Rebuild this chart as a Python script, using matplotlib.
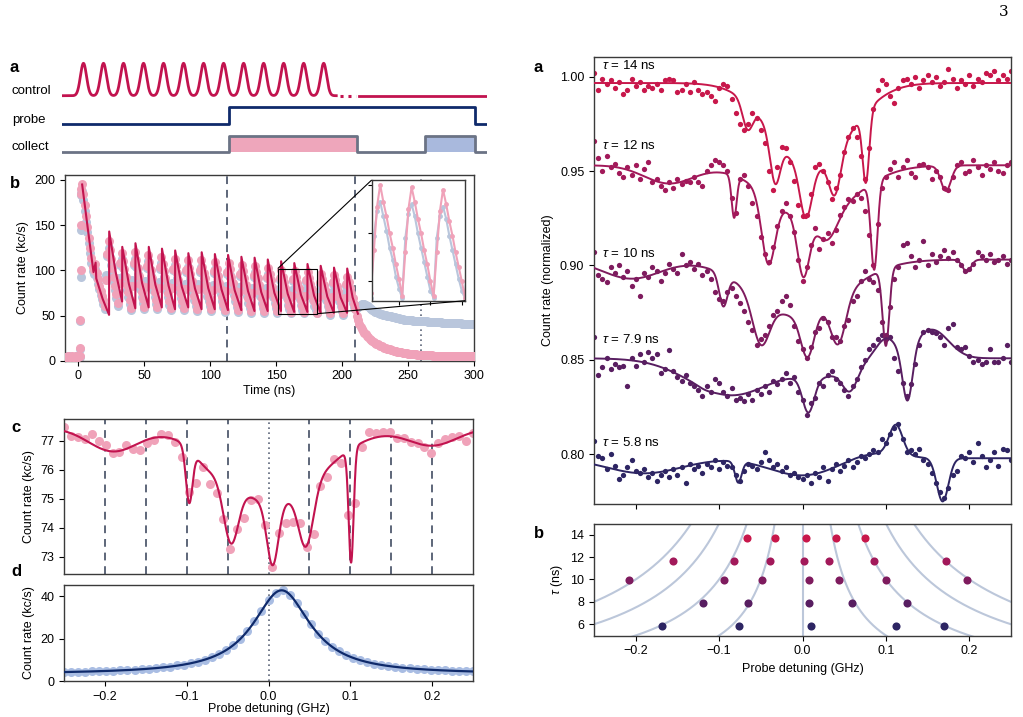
import numpy as np
import matplotlib
matplotlib.use("Agg")
import matplotlib.pyplot as plt
from mpl_toolkits.axes_grid1.inset_locator import mark_inset

plt.rcParams['font.family'] = ['Liberation Sans', 'DejaVu Sans']
plt.rcParams['font.size'] = 9
plt.rcParams['mathtext.fontset'] = 'custom'
plt.rcParams['mathtext.it'] = 'Liberation Sans:italic'
plt.rcParams['mathtext.rm'] = 'Liberation Sans'
plt.rcParams['axes.linewidth'] = 1.0
plt.rcParams['axes.edgecolor'] = '#3a3a3a'
plt.rcParams['axes.unicode_minus'] = True

#%% data -------------------------------------------------------------
# panel b: time trace, 1 ns bins starting at t = -10 ns
pink_rate = [4, 4, 5, 4, 4, 5, 4, 4, 5, 4, 4, 5,
             190, 195, 184, 172, 160, 148, 136, 125, 114, 104, 100, 107, 97, 90, 83, 77, 72, 67, 60,
             89, 118, 132, 122, 113, 103, 93, 83, 74, 64,
             86, 108, 119, 110, 102, 93, 84, 76, 67, 58,
             83, 108, 120, 111, 103, 94, 85, 76, 68, 59,
             82, 105, 117, 109, 100, 92, 84, 76, 67, 59,
             81, 104, 115, 107, 99, 91, 83, 75, 66, 58,
             80, 102, 113, 105, 97, 89, 81, 74, 66, 58,
             79, 100, 111, 103, 96, 88, 80, 72, 65, 57,
             79, 100, 111, 104, 97, 91, 84, 77, 71, 64, 57,
             78, 99, 109, 101, 94, 86, 79, 71, 63, 56,
             77, 98, 108, 101, 93, 86, 78, 71, 63, 56,
             76, 96, 106, 99, 91, 84, 77, 69, 62, 55,
             75, 95, 105, 98, 91, 84, 77, 69, 62, 55,
             74, 93, 103, 96, 89, 82, 75, 69, 62, 55,
             73, 91, 100, 93, 87, 80, 74, 67, 61, 54,
             72, 90, 99, 93, 86, 80, 73, 67, 60, 54,
             72, 89, 98, 92, 85, 79, 72, 66, 60, 53,
             70, 87, 96, 90, 84, 78, 72, 65, 59, 53,
             70, 87, 95, 89, 83, 77, 71, 65, 59, 53,
             69, 85, 93, 87, 81, 75, 69, 63, 57,
             50, 45, 41, 37, 35, 33, 31, 29, 27, 26,
             24, 23, 22, 21, 20, 19, 18, 17, 16.5, 16,
             15, 14.5, 14, 13.5, 13, 12.5, 12, 11.5, 11, 10.6,
             10.3, 10, 9.7, 9.4, 9.1, 8.8, 8.6, 8.3, 8.1, 7.9,
             7.7, 7.5, 7.4, 7.2, 7.1, 6.9, 6.8, 6.7, 6.6, 6.4,
             6.3, 6.2, 6.1, 6.0, 6.0, 5.9, 5.8, 5.8, 5.7, 5.7,
             5.6, 5.6, 5.5, 5.5, 5.5, 5.4, 5.4, 5.4, 5.3, 5.3,
             5.3, 5.3, 5.2, 5.2, 5.2, 5.2, 5.1, 5.1, 5.1, 5.1,
             5.0, 5.0, 5.0, 5.0, 5.0, 5.0, 5.0, 5.0, 5.0, 5.0]
blue_rate = [4, 5, 4, 4, 5, 4, 4, 4, 5, 4, 5, 4,
             186, 188, 178, 166, 154, 142, 130, 119, 108, 99, 96, 101, 92, 85, 79, 73, 68, 63, 57,
             95, 116, 125, 115, 106, 97, 87, 78, 69, 61,
             92, 106, 112, 103, 95, 87, 78, 71, 63, 56,
             89, 106, 113, 104, 96, 88, 79, 71, 64, 57,
             88, 103, 110, 102, 94, 86, 78, 71, 63, 57,
             87, 102, 108, 100, 93, 85, 77, 70, 62, 56,
             86, 100, 106, 98, 91, 83, 76, 69, 62, 56,
             85, 98, 104, 96, 90, 82, 75, 67, 61, 55,
             85, 98, 104, 97, 91, 85, 78, 72, 66, 60, 55,
             84, 97, 102, 95, 88, 80, 74, 66, 59, 54,
             83, 96, 101, 95, 87, 80, 73, 66, 59, 54,
             82, 94, 99, 93, 85, 78, 72, 64, 58, 53,
             81, 93, 98, 92, 85, 78, 72, 64, 58, 53,
             80, 91, 96, 90, 83, 76, 70, 64, 58, 53,
             79, 89, 93, 87, 81, 74, 69, 62, 57, 53,
             78, 88, 92, 87, 80, 74, 68, 62, 56, 53,
             78, 87, 91, 86, 79, 73, 67, 61, 56, 53,
             76, 85, 89, 84, 78, 72, 67, 60, 55, 51,
             76, 85, 88, 83, 77, 71, 66, 60, 55, 51,
             75, 83, 86, 81, 75, 69, 64, 59, 57,
             58, 60, 61, 62, 63, 63, 63, 62, 61, 60,
             58, 57, 56, 55, 54, 53.5, 53, 52.5, 52, 51.5,
             51, 51, 50.5, 50, 49.5, 49, 49, 48.5, 48, 48,
             47.5, 47, 47, 46.5, 46, 46, 45.5, 45.5, 45, 45,
             44.8, 44.6, 44.5, 44.4, 44.3, 44.2, 44.1, 44, 43.9, 43.8,
             43.7, 43.6, 43.5, 43.4, 43.3, 43.2, 43.1, 43, 42.9, 42.8,
             42.7, 42.6, 42.5, 42.4, 42.3, 42.2, 42.1, 42.0, 41.9, 41.9,
             41.8, 41.7, 41.7, 41.6, 41.5, 41.5, 41.4, 41.3, 41.3, 41.2,
             41.1, 41.1, 41.0, 41.0, 40.9, 40.9, 40.8, 40.8, 40.7, 40.7]
onset_t = [1.2, 1.5, 1.8, 2.1, 2.4]
onset_pink = [14, 45, 100, 150, 185]
onset_blue = [13, 44, 93, 145, 183]

# fitted model for the control-pulse train (vertices of the fit curve)
fit_t = [3.0, 7.3, 11.6, 13.2, 13.7, 18.5, 23.4, 23.5, 28.4, 33.3, 33.4, 38.4, 43.3,
         43.4, 48.4, 53.4, 53.5, 58.5, 63.4, 63.5, 68.5, 73.4, 73.5, 78.5, 83.4,
         83.5, 88.5, 93.5, 93.6, 98.6, 103.5, 103.6, 108.6, 113.5, 113.6, 118.6, 123.6,
         123.7, 128.7, 133.6, 133.7, 138.7, 143.6, 143.7, 148.7, 153.7, 153.8, 158.8, 163.7,
         163.8, 168.8, 173.7, 173.8, 178.8, 183.7, 183.8, 188.8, 193.8, 193.9, 198.9, 203.8,
         203.9, 208.0, 212.0]
fit_v = [195, 146, 98, 108.5, 91, 68.5, 50.7, 143, 98, 65.5, 126, 85, 58,
         130, 86, 59, 126, 84, 59, 124, 83, 57, 122, 82, 59,
         119, 80, 57, 120, 80, 57, 118, 79, 56, 117, 78, 56,
         115, 77, 55, 114, 76, 55, 112, 75, 55, 110, 74, 54,
         108, 73, 54, 107, 72, 53, 105, 71, 53, 103, 70, 53,
         102, 70, 52]
window_lines = [113, 210]
readout_line = 260

# panel c: probe transmission during the pulse train
c_rate = [77.49, 77.17, 77.13, 77.06, 77.23, 77.01, 76.85, 76.57, 76.63, 76.86,
          76.71, 76.69, 76.92, 77.03, 77.23, 77.20, 76.98, 76.46, 75.25, 75.54,
          76.11, 75.51, 75.19, 74.30, 73.26, 73.96, 74.33, 74.96, 74.98, 74.09,
          72.65, 73.81, 74.17, 74.21, 74.17, 73.32, 73.78, 75.44, 75.76, 76.37,
          76.23, 74.44, 74.86, 76.80, 77.32, 77.26, 77.30, 77.30, 77.11, 77.09,
          76.98, 76.94, 76.78, 76.57, 76.94, 77.06, 77.15, 77.17, 77.01, 77.27]
c_base = 77.45
c_centers = [0.005, -0.19, 0.2, -0.075, -0.097, -0.046, 0.005, 0.046, 0.101]
c_widths = [0.06, 0.03, 0.03, 0.015, 0.004, 0.009, 0.007, 0.009, 0.003]
c_amps = [-2.6, -0.8, -0.6, -0.35, -1.86, -2.13, -2.15, -2.04, -3.93]
c_dashed = [-0.2, -0.15, -0.1, -0.05, 0.05, 0.1, 0.15, 0.2]

# panel d: bare probe line
d_rate = [4.1, 4.2, 4.3, 4.4, 4.5, 4.6, 4.7, 4.8, 5.0, 5.2, 5.3, 5.5, 5.8, 6.1, 6.4,
          6.8, 7.3, 7.7, 8.4, 9.1, 10.0, 11.3, 12.6, 14.7, 16.8, 19.9, 23.4, 28.1, 32.9,
          38.0, 41.5, 42.8, 40.6, 36.6, 31.4, 26.7, 22.3, 19.0, 16.0, 14.1, 12.2, 11.0,
          9.8, 8.9, 8.2, 7.6, 7.1, 6.6, 6.3, 6.0, 5.7, 5.5, 5.3, 5.1, 5.0, 4.8, 4.7, 4.6, 4.5]
d_base, d_amp, d_center, d_width = 3.2, 39.5, 0.016, 0.043

# right panel a: normalized spectra (x 1e-3), offset per tau
tau_labels = ['14', '12', '10', '7.9', '5.8']
rate_14 = [1002, 993, 999, 996, 998, 994, 997, 991, 993, 999, 995, 997, 993, 995, 994, 996, 993,
           998, 999, 998, 992, 993, 996, 992, 997, 993, 991, 992, 990, 987, 994, 996, 995, 988,
           981, 975, 972, 975, 981, 978, 972, 965, 950, 940, 952, 963, 962, 955, 945, 932, 926,
           927, 938, 952, 954, 950, 944, 935, 941, 948, 960, 968, 973, 968, 958, 946, 962, 983,
           993, 998, 996, 990, 986, 994, 998, 999, 996, 1000, 994, 998, 1001, 997, 1000, 995,
           997, 1004, 999, 994, 998, 996, 1001, 995, 999, 997, 1002, 1001, 1003, 998, 1001, 999, 1003]
rate_12 = [966, 957, 950, 958, 952, 954, 949, 947, 952, 948, 953, 946, 951, 955, 944, 946, 942,
           940, 944, 941, 946, 943, 945, 944, 947, 944, 942, 950, 953, 956, 955, 953, 950, 936,
           928, 946, 948, 942, 933, 926, 915, 906, 902, 910, 921, 929, 933, 926, 918, 903, 892,
           899, 911, 920, 909, 914, 917, 912, 919, 927, 931, 935, 934, 938, 936, 929, 916, 900,
           922, 941, 947, 951, 955, 947, 952, 956, 949, 947, 953, 954, 952, 946, 950, 947, 941,
           940, 947, 953, 955, 949, 950, 956, 952, 948, 953, 951, 955, 950, 949, 953, 955]
rate_10 = [907, 895, 893, 891, 899, 896, 900, 894, 897, 889, 893, 884, 896, 894, 899, 897, 892,
           896, 901, 898, 896, 906, 900, 902, 898, 901, 895, 897, 893, 886, 882, 881, 886, 888,
           884, 880, 876, 870, 866, 858, 861, 863, 868, 874, 876, 881, 884, 879, 868, 860, 856,
           851, 857, 865, 867, 872, 870, 862, 862, 860, 868, 871, 881, 884, 892, 897, 893, 891,
           887, 870, 863, 878, 893, 899, 911, 912, 905, 899, 903, 913, 900, 906, 902, 905, 908,
           904, 907, 903, 900, 897, 898, 901, 907, 905, 903, 906, 902, 903, 905, 901, 903]
rate_79 = [862, 842, 846, 851, 845, 848, 846, 847, 836, 851, 847, 853, 849, 854, 851, 853, 843,
           845, 855, 844, 841, 839, 842, 838, 836, 834, 831, 836, 833, 840, 838, 833, 831, 835,
           829, 830, 828, 832, 829, 834, 832, 836, 833, 839, 837, 840, 843, 838, 841, 833, 829,
           821, 827, 830, 838, 836, 842, 844, 840, 838, 834, 831, 836, 840, 846, 850, 856, 858,
           861, 863, 861, 862, 851, 844, 838, 831, 837, 848, 858, 865, 866, 865, 864, 862, 858,
           867, 869, 857, 856, 857, 852, 849, 850, 848, 849, 856, 849, 849, 851, 858, 849]
rate_58 = [807, 799, 798, 792, 800, 794, 787, 789, 793, 797, 791, 790, 792, 788, 790, 786, 789,
           791, 788, 792, 789, 793, 785, 795, 792, 794, 790, 795, 793, 797, 792, 796, 794, 793,
           789, 786, 791, 795, 794, 792, 796, 801, 797, 793, 795, 791, 793, 789, 790, 788, 787,
           789, 785, 790, 788, 793, 786, 792, 795, 791, 794, 797, 793, 796, 799, 798, 800, 802,
           801, 808, 806, 811, 814, 816, 808, 801, 802, 800, 803, 797, 795, 790, 785, 780, 777,
           782, 789, 791, 799, 798, 801, 796, 806, 799, 793, 797, 801, 794, 803, 802, 797]
# features (centre, width in GHz) used for the model fit of each spectrum
feat_14 = [(0.01, 0.045), (-0.066, 0.006), (-0.033, 0.006), (0.004, 0.007), (0.039, 0.007), (0.076, 0.004)]
feat_12 = [(-0.16, 0.03), (0.01, 0.05), (-0.082, 0.003), (-0.041, 0.008), (0.001, 0.007),
           (0.03, 0.012), (0.086, 0.004), (0.172, 0.006)]
feat_10 = [(-0.205, 0.035), (-0.005, 0.055), (-0.095, 0.005), (-0.05, 0.01), (0.006, 0.008),
           (0.043, 0.009), (0.1, 0.004), (0.197, 0.005)]
feat_79 = [(-0.085, 0.05), (-0.117, 0.008), (0.007, 0.007), (0.057, 0.009), (0.126, 0.006),
           (0.1, 0.012), (0.155, 0.02), (0.025, 0.03)]
feat_58 = [(-0.19, 0.045), (0.0, 0.04), (-0.077, 0.004), (0.112, 0.008), (0.085, 0.03), (0.168, 0.007)]
tau_colors = ['#c8174b', '#a2195a', '#7e1b5e', '#581e61', '#2d2563']
label_level = [1.0062, 0.9638, 0.9064, 0.8608, 0.806]

# right panel b: dip positions vs tau
dip_tau = [13.73, 11.65, 9.95, 7.9, 5.82]
dip_pos = [[-0.066, -0.0333, 0.0036, 0.040, 0.0753],
           [-0.155, -0.082, -0.0392, 0.002, 0.032, 0.086, 0.172],
           [-0.208, -0.0944, -0.048, 0.0072, 0.0436, 0.1004, 0.1972],
           [-0.1192, -0.0648, 0.0076, 0.0596, 0.1256],
           [-0.168, -0.076, 0.010, 0.1124, 0.1692]]
orders = [-4, -3, -2, -1, 0, 1, 2, 3, 4]

# panel a: pulse sequence (time in ns, same axis as panel b)
pulse_t0, pulse_step, n_pulses = 4.0, 15.2, 13
probe_on, probe_off = 114.7, 301.4
collect_1 = (114.7, 211.8)
collect_2 = (263.5, 301.4)

PINK, BLUE_D, RED, NAVY, GREY = '#f0a2b9', '#b9c6dc', '#c2134f', '#0f2a6b', '#5d6679'

#%% helpers
def gauss(x, c, s):
    return np.exp(-0.5 * ((x - c) / s) ** 2)

def model_fit(x, y, feats, xf):
    A = np.column_stack([np.ones_like(x)] + [gauss(x, c, s) for c, s in feats])
    coef = np.linalg.solve(A.T @ A + 1e-6 * np.eye(A.shape[1]), A.T @ y)
    Af = np.column_stack([np.ones_like(xf)] + [gauss(xf, c, s) for c, s in feats])
    return Af @ coef

W, H = 1023, 717
def box(l, t, r, b):
    return [l / W, 1 - b / H, (r - l) / W, (b - t) / H]

fig = plt.figure(figsize=(10.23, 7.17), dpi=100)

#%% panel a: sequence
ax_a = fig.add_axes(box(62, 55, 487, 158))
ax_a.set_xlim(-12.3, 310.4)
ax_a.set_ylim(158, 55)
ax_a.axis('off')
tc = np.linspace(-12.3, 197, 3000)
ctrl = np.full_like(tc, 95.7)
for k in range(n_pulses):
    ctrl -= 32.4 * gauss(tc, pulse_t0 + k * pulse_step, 2.3)
ax_a.plot(tc, ctrl, color=RED, lw=2, solid_capstyle='butt')
ax_a.plot([199, 211], [95.7, 95.7], color=RED, lw=2.2, ls=(0, (1, 1.6)))
ax_a.plot([213, 309.5], [95.7, 95.7], color=RED, lw=2)
ax_a.plot([-12.3, probe_on, probe_on, probe_off, probe_off, 309.5],
          [124, 124, 107, 107, 124, 124], color=NAVY, lw=2)
ax_a.fill_between(collect_1, 136, 151.7, color='#eea6bb', lw=0)
ax_a.fill_between(collect_2, 136, 151.7, color='#a9b9dd', lw=0)
ax_a.plot([-12.3, collect_1[0], collect_1[0], collect_1[1], collect_1[1], collect_2[0],
           collect_2[0], collect_2[1], collect_2[1], 309.5],
          [151.7, 151.7, 136, 136, 151.7, 151.7, 136, 136, 151.7, 151.7], color='#6b7385', lw=2)
for lab, yy in zip(['control', 'probe', 'collect'], [91.5, 119.5, 147]):
    fig.text(12 / W, 1 - yy / H, lab, fontsize=9.5, va='center', ha='left')

#%% panel b: time trace
ax_b = fig.add_axes(box(65, 175, 474, 360.7))
tt = np.arange(-10, -10 + len(pink_rate))
tb = np.arange(-10, -10 + len(blue_rate))
ax_b.plot(tb, blue_rate, 'o', color=BLUE_D, ms=6.5, mew=0, zorder=2)
ax_b.plot(onset_t, onset_blue, 'o', color=BLUE_D, ms=6.5, mew=0, zorder=2)
ax_b.plot(tt, pink_rate, 'o', color=PINK, ms=6.5, mew=0, zorder=3)
ax_b.plot(onset_t, onset_pink, 'o', color=PINK, ms=6.5, mew=0, zorder=3)
ax_b.plot(fit_t, fit_v, color=RED, lw=1.5, zorder=4)
for xv in window_lines:
    ax_b.axvline(xv, color=GREY, lw=1.4, ls=(0, (4, 3)), zorder=1)
ax_b.axvline(readout_line, color=GREY, lw=1.2, ls=(0, (1, 2)), zorder=1)
ax_b.set_xlim(-10, 300)
ax_b.set_ylim(0, 205.5)
ax_b.set_xticks(range(0, 301, 50))
ax_b.set_yticks(range(0, 201, 50))
ax_b.set_xlabel('Time (ns)', labelpad=2)
ax_b.set_ylabel('Count rate (kc/s)')

ax_in = fig.add_axes(box(371.7, 180, 465, 300.7))
sel = (tt >= 150) & (tt <= 182)
selb = (tb >= 150) & (tb <= 182)
ax_in.plot(tb[selb], np.array(blue_rate)[selb], '-o', color=BLUE_D, ms=3.5, lw=1.5, mew=0)
ax_in.plot(tt[sel], np.array(pink_rate)[sel], '-o', color=PINK, ms=3.5, lw=1.5, mew=0)
ax_in.set_xlim(151.3, 181)
ax_in.set_ylim(52, 102)
ax_in.set_xticks([160, 170, 180])
ax_in.set_yticks([60, 80, 100])
ax_in.tick_params(labelbottom=False, labelleft=False, length=3)
mark_inset(ax_b, ax_in, loc1=2, loc2=4, fc='none', ec='k', lw=0.8, zorder=5)

#%% panel c
xc = np.linspace(-0.25, 0.25, len(c_rate))
xf = np.linspace(-0.25, 0.25, 3000)
c_model = c_base + sum(a * gauss(xf, c, s) for c, s, a in zip(c_centers, c_widths, c_amps))
ax_c = fig.add_axes(box(64, 419, 473, 574))
for xv in c_dashed:
    ax_c.axvline(xv, color=GREY, lw=1.4, ls=(0, (4, 3)), zorder=1)
ax_c.axvline(0, color=GREY, lw=1.2, ls=(0, (1, 2)), zorder=1)
ax_c.plot(xc, c_rate, 'o', color=PINK, ms=6.5, mew=0, zorder=2)
ax_c.plot(xf, c_model, color=RED, lw=1.5, zorder=3)
ax_c.set_xlim(-0.25, 0.25)
ax_c.set_ylim(72.4, 77.76)
ax_c.set_yticks([73, 74, 75, 76, 77])
ax_c.tick_params(axis='x', bottom=False, labelbottom=False)
ax_c.set_ylabel('Count rate (kc/s)')

#%% panel d
xd = np.linspace(-0.25, 0.25, len(d_rate))
d_model = d_base + d_amp / (1 + ((xf - d_center) / d_width) ** 2)
ax_d = fig.add_axes(box(64, 585, 473, 681))
ax_d.axvline(0, color=GREY, lw=1.2, ls=(0, (1, 2)), zorder=1)
ax_d.plot(xd, d_rate, 'o', color='#a9bde3', ms=6.5, mew=0, zorder=2)
ax_d.plot(xf, d_model, color=NAVY, lw=1.6, zorder=3)
ax_d.set_xlim(-0.25, 0.25)
ax_d.set_ylim(0, 45.2)
ax_d.set_yticks([0, 20, 40])
ax_d.set_xticks([-0.2, -0.1, 0.0, 0.1, 0.2])
ax_d.set_ylabel('Count rate (kc/s)')
ax_d.set_xlabel('Probe detuning (GHz)', labelpad=0)

#%% right a
ax_r = fig.add_axes(box(594, 56.7, 1011, 504.3))
for rates, feats, col, lab, lev in zip([rate_14, rate_12, rate_10, rate_79, rate_58],
                                       [feat_14, feat_12, feat_10, feat_79, feat_58],
                                       tau_colors, tau_labels, label_level):
    y = np.array(rates) / 1000.0
    x = np.linspace(-0.25, 0.25, len(y))
    ax_r.plot(x, y, 'o', color=col, ms=3.8, mew=0, zorder=2)
    ax_r.plot(xf, model_fit(x, y, feats, xf), color=col, lw=1.4, zorder=3)
    ax_r.text(-0.241, lev, r'$\tau$ = ' + lab + ' ns', fontsize=9.5, va='center', ha='left')
ax_r.set_xlim(-0.25, 0.25)
ax_r.set_ylim(0.7735, 1.0106)
ax_r.set_yticks([0.80, 0.85, 0.90, 0.95, 1.00])
ax_r.set_yticklabels(['0.80', '0.85', '0.90', '0.95', '1.00'])
ax_r.set_xticks([-0.2, -0.1, 0.0, 0.1, 0.2])
ax_r.tick_params(axis='x', labelbottom=False)
ax_r.set_ylabel('Count rate (normalized)')

#%% right b
ax_s = fig.add_axes(box(594, 524, 1011, 635.7))
taus = np.linspace(3, 16, 500)
for n in orders:
    ax_s.plot(n / (2 * taus), taus, color='#bcc7da', lw=1.5, zorder=1)
for tau, pos, col in zip(dip_tau, dip_pos, tau_colors):
    ax_s.scatter(pos, [tau] * len(pos), s=34, color=col, lw=0, zorder=3)
ax_s.set_xlim(-0.25, 0.25)
ax_s.set_ylim(4.98, 14.95)
ax_s.set_yticks([6, 8, 10, 12, 14])
ax_s.set_xticks([-0.2, -0.1, 0.0, 0.1, 0.2])
ax_s.set_ylabel(r'$\tau$ (ns)')
ax_s.set_xlabel('Probe detuning (GHz)')

#%% panel letters, page number
for lab, xx, yy in [('a', 10, 68), ('b', 10, 184), ('c', 11, 428), ('d', 11, 571),
                    ('a', 534, 68), ('b', 534, 533)]:
    fig.text(xx / W, 1 - yy / H, lab, fontsize=12, weight='bold', va='center', ha='left')
fig.text(1004 / W, 1 - 12 / H, '3', fontsize=11, family='DejaVu Serif', va='center', ha='center')

fig.savefig('out.png', dpi=100)
